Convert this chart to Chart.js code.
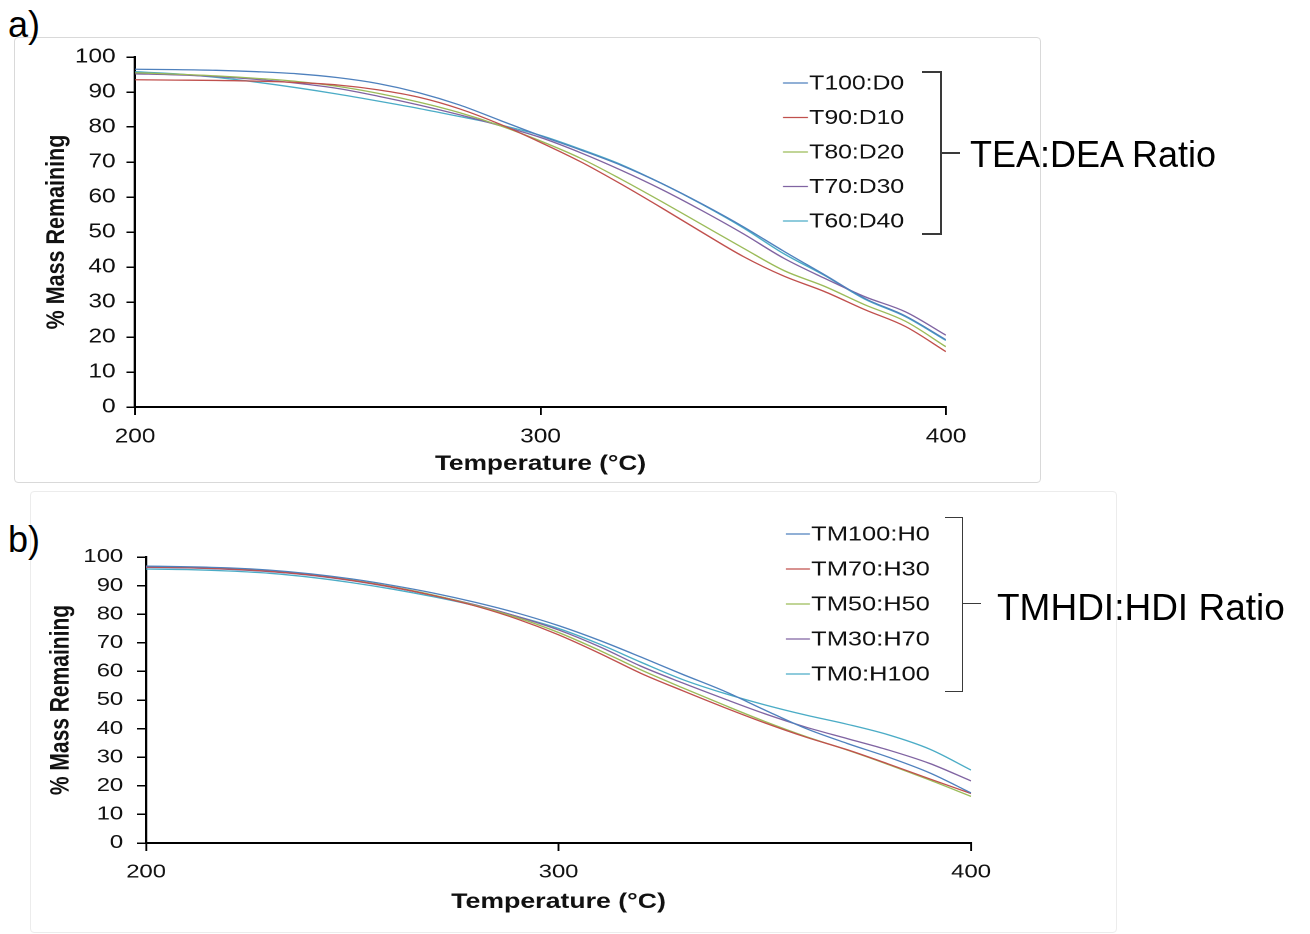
<!DOCTYPE html>
<html>
<head>
<meta charset="utf-8">
<script src="https://cdn.jsdelivr.net/npm/chart.js@4.4.0/dist/chart.umd.min.js"></script>
<style>
  body { margin: 0; width: 1310px; height: 934px; background: #fff; position: relative; overflow: hidden;
         font-family: 'Liberation Sans', Arial, sans-serif; color: #000; }
  .panel { position: absolute; border: 1px solid #d9d9d9; border-radius: 4px; }
  .wrap { position: absolute; left: 0; transform-origin: 0 0; }
  .brk { position: absolute; border: 2px solid #3a3a3a; border-left: none; }
  .tick { position: absolute; border-top: 2px solid #3a3a3a; height: 0; }
  .lbl { position: absolute; white-space: nowrap; line-height: 40px; height: 40px; }
</style>
</head>
<body>

<div class="panel" style="left:14px;top:37px;width:1025px;height:444px;"></div>
<div class="panel" style="left:30px;top:491px;width:1085px;height:440px;border-color:#ececec;"></div>

<div class="lbl" style="left:8px;top:5px;font-size:36px;">a)</div>
<div class="lbl" style="left:8px;top:520px;font-size:36px;">b)</div>

<div class="wrap" style="top:0;transform:scaleX(1.22);"><canvas id="chartA" width="1074" height="485"></canvas></div>
<div class="wrap" style="top:485px;transform:scaleX(1.27);"><canvas id="chartB" width="1032" height="449"></canvas></div>

<!-- 괄호랑 비율 라벨 (차트 밖 텍스트) -->
<div class="brk" style="left:922px;top:71px;width:18px;height:160px;"></div>
<div class="tick" style="left:941px;top:152px;width:19px;"></div>
<div class="lbl" style="left:970px;top:135px;font-size:36px;">TEA:DEA Ratio</div>

<div class="brk" style="left:945px;top:517px;width:17px;height:173px;border-width:1.5px;"></div>
<div class="tick" style="left:963px;top:603px;width:18px;border-top-width:1.5px;"></div>
<div class="lbl" style="left:997px;top:588px;font-size:37px;">TMHDI:HDI Ratio</div>

<script>
'use strict';

// 온도 (x축)
const tempC = [200, 210, 220, 230, 240, 250, 260, 270, 280, 290, 300, 310, 320, 330, 340, 350, 360, 370, 380, 390, 400];
const xTicks = [200, 300, 400];
const yTicks = [0, 10, 20, 30, 40, 50, 60, 70, 80, 90, 100];

// a) TEA:DEA
const namesA = ['T100:D0', 'T90:D10', 'T80:D20', 'T70:D30', 'T60:D40'];
const t100d0 = [96.5, 96.4, 96.2, 95.8, 95.2, 94.1, 92.4, 89.8, 86.3, 81.9, 77.5, 73.4, 69.0, 63.8, 57.9, 51.5, 44.5, 37.8, 31.0, 26.0, 19.2];
const t90d10 = [93.5, 93.4, 93.3, 93.1, 92.7, 92.0, 90.6, 88.5, 85.2, 80.8, 75.6, 70.0, 63.6, 56.8, 49.8, 43.0, 37.4, 33.0, 27.8, 23.0, 15.8];
const t80d20 = [95.5, 95.1, 94.6, 93.9, 93.0, 91.6, 89.6, 87.1, 84.1, 80.4, 76.0, 71.0, 65.0, 58.6, 52.0, 45.4, 39.0, 34.5, 29.2, 24.5, 17.2];
const t70d30 = [95.2, 94.9, 94.4, 93.6, 92.5, 91.0, 88.8, 86.3, 83.5, 80.4, 77.0, 72.6, 67.6, 62.1, 56.0, 49.5, 42.5, 36.8, 31.5, 27.2, 20.5];
const t60d40 = [95.8, 95.2, 94.2, 92.8, 91.2, 89.4, 87.4, 85.3, 83.0, 80.6, 77.6, 73.6, 69.2, 63.8, 57.8, 51.2, 43.8, 37.6, 30.8, 25.8, 19.0];

// b) TMHDI:HDI
const namesB = ['TM100:H0', 'TM70:H30', 'TM50:H50', 'TM30:H70', 'TM0:H100'];
const tm100h0 = [96.8, 96.6, 96.2, 95.4, 94.1, 92.3, 90.0, 87.3, 84.1, 80.4, 76.0, 70.8, 65.0, 59.0, 53.2, 46.5, 40.0, 34.8, 30.0, 24.5, 17.5];
const tm70h30 = [96.5, 96.3, 95.8, 95.0, 93.7, 91.8, 89.4, 86.4, 82.8, 78.3, 72.8, 66.3, 59.3, 53.3, 47.5, 42.0, 37.0, 32.6, 27.6, 22.4, 17.3];
const tm50h50 = [96.6, 96.4, 95.9, 95.1, 93.8, 91.9, 89.5, 86.6, 83.0, 78.8, 73.6, 67.3, 60.5, 54.3, 48.3, 42.5, 37.2, 32.5, 27.4, 22.0, 16.3];
const tm30h70 = [96.4, 96.2, 95.7, 94.9, 93.6, 91.7, 89.3, 86.5, 83.2, 79.2, 74.5, 68.6, 61.8, 56.0, 50.5, 45.2, 40.5, 36.5, 32.5, 27.8, 21.7];
const tm0h100 = [95.8, 95.6, 95.1, 94.3, 92.9, 91.0, 88.7, 86.0, 82.9, 79.2, 75.0, 69.5, 63.2, 57.2, 52.4, 48.3, 44.7, 41.5, 37.8, 32.8, 25.5];

// 엑셀 기본 색
const lineColors = ['#4F81BD', '#C0504D', '#9BBB59', '#8064A2', '#4BACC6'];

Chart.defaults.font.family = "'Liberation Sans', Arial, sans-serif";
Chart.defaults.color = '#111';

// 플롯 안쪽에 범례 그리기
const insideLegend = {
    id: 'insideLegend',
    afterDraw(chart, args, o) {
        const ctx = chart.ctx;
        ctx.save();
        ctx.font = o.size + "px 'Liberation Sans', Arial, sans-serif";
        ctx.textBaseline = 'middle';
        chart.data.datasets.forEach((ds, i) => {
            const y = o.top + i * o.gap;
            ctx.strokeStyle = ds.borderColor;
            ctx.lineWidth = 1.3;
            ctx.beginPath();
            ctx.moveTo(o.x, y);
            ctx.lineTo(o.x + o.len, y);
            ctx.stroke();
            ctx.fillStyle = '#111';
            ctx.fillText(ds.label, o.x + o.len + 1, y + 1);
        });
        ctx.restore();
    }
};

function makeChart(id, names, series, s) {
    const datasets = series.map((vals, i) => ({
        label: names[i],
        data: vals.map((v, k) => ({ x: tempC[k], y: v })),
        borderColor: lineColors[i],
        borderWidth: 1.3,
        pointRadius: 0,
        cubicInterpolationMode: 'monotone',
        fill: false
    }));

    return new Chart(document.getElementById(id), {
        type: 'line',
        data: { datasets: datasets },
        plugins: [insideLegend],
        options: {
            responsive: false,
            animation: false,
            devicePixelRatio: 2,
            layout: { padding: { left: 0, top: s.top, right: s.right, bottom: 0 } },
            plugins: {
                legend: { display: false },
                tooltip: { enabled: false },
                insideLegend: s.legend
            },
            scales: {
                x: {
                    type: 'linear',
                    min: 200,
                    max: 400,
                    afterBuildTicks: sc => { sc.ticks = xTicks.map(v => ({ value: v })); },
                    afterFit: sc => { sc.height = s.xH; },
                    ticks: { font: { size: s.tick }, padding: s.xPad, maxRotation: 0, color: '#111' },
                    grid: { drawOnChartArea: false, drawTicks: true, tickLength: 8, color: '#000', lineWidth: 1.5 },
                    border: { display: true, color: '#000', width: 2 },
                    title: {
                        display: true,
                        text: 'Temperature (°C)',
                        font: { size: s.title, weight: 'bold' },
                        color: '#111',
                        padding: { top: 0, bottom: s.xTitlePad }
                    }
                },
                y: {
                    min: 0,
                    max: 100,
                    afterBuildTicks: sc => { sc.ticks = yTicks.map(v => ({ value: v })); },
                    afterFit: sc => { sc.width = s.yW; },
                    ticks: { font: { size: s.tick }, padding: s.yPad, color: '#111' },
                    grid: { drawOnChartArea: false, drawTicks: true, tickLength: 7, color: '#000', lineWidth: 1.5 },
                    border: { display: true, color: '#000', width: 2 },
                    title: {
                        display: true,
                        text: '% Mass Remaining',
                        font: { size: s.title, weight: 'bold' },
                        color: '#111',
                        padding: { top: s.yTitlePad, bottom: 0 }
                    }
                }
            }
        }
    });
}

// a) 위쪽 차트 (가로 1.22배 늘어난 상태)
const chartA = makeChart('chartA', namesA, [t100d0, t90d10, t80d20, t70d30, t60d40], {
    top: 57, right: 298.6, xH: 78, yW: 110.7,
    tick: 20, title: 21.5, xPad: 10, yPad: 9, xTitlePad: 8, yTitlePad: 33.8,
    legend: { x: 641.8, len: 20.5, top: 83, gap: 34.5, size: 20.3 }
});

// b) 아래 차트 (가로 1.27배)
const chartB = makeChart('chartB', namesB, [tm100h0, tm70h30, tm50h50, tm30h70, tm0h100], {
    top: 72, right: 267.4, xH: 91, yW: 115,
    tick: 18.8, title: 21, xPad: 10, yPad: 11, xTitlePad: 19, yTitlePad: 35.4,
    legend: { x: 618.9, len: 18.9, top: 49, gap: 35, size: 20 }
});
</script>
</body>
</html>
